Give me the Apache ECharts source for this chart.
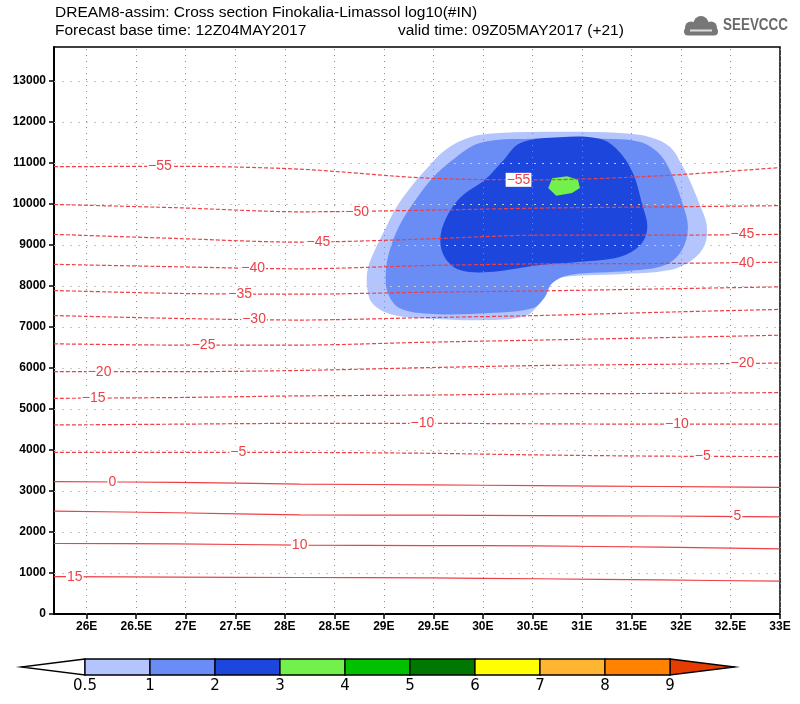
<!DOCTYPE html>
<html><head><meta charset="utf-8">
<script src="https://cdn.jsdelivr.net/npm/echarts@6/dist/echarts.min.js"></script>
<style>html,body{margin:0;padding:0;background:#fff}#c{width:800px;height:704px}</style>
</head><body><div id="c"></div>
<script>
// ---- axis ticks ----
const xTicks = [26, 26.5, 27, 27.5, 28, 28.5, 29, 29.5, 30, 30.5, 31, 31.5, 32, 32.5, 33];
const yTicks = [0, 1000, 2000, 3000, 4000, 5000, 6000, 7000, 8000, 9000, 10000, 11000, 12000, 13000];

// ---- isotherm heights (m) read at these longitudes ----
const lineLons = [25.67, 26.9, 28.15, 29.45, 30.55, 31.8, 33];
const T_P15 = [910, 900, 890, 880, 860, 830, 800];
const T_P10 = [1720, 1710, 1680, 1670, 1660, 1630, 1590];
const T_P5  = [2510, 2470, 2420, 2410, 2400, 2390, 2370];
const T_0   = [3230, 3210, 3170, 3150, 3130, 3110, 3090];
const T_M5  = [3940, 3940, 3940, 3920, 3880, 3850, 3840];
const T_M10 = [4610, 4630, 4650, 4650, 4640, 4630, 4630];
const T_M15 = [5260, 5280, 5320, 5340, 5370, 5380, 5400];
const T_M20 = [5910, 5910, 5940, 6010, 6060, 6090, 6120];
const T_M25 = [6590, 6560, 6560, 6630, 6680, 6740, 6800];
const T_M30 = [7280, 7210, 7170, 7230, 7280, 7360, 7430];
const T_M35 = [7890, 7820, 7800, 7850, 7880, 7930, 7980];
const T_M40 = [8530, 8470, 8420, 8500, 8540, 8550, 8580];
const T_M45 = [9260, 9160, 9070, 9150, 9240, 9240, 9260];
const T_M50 = [9990, 9910, 9810, 9850, 9900, 9930, 9960];
const T_M55 = [10910, 10920, 10850, 10630, 10590, 10690, 10890];
const isoLevels = [15, 10, 5, 0, -5, -10, -15, -20, -25, -30, -35, -40, -45, -50, -55];
const isoHeights = [T_P15, T_P10, T_P5, T_0, T_M5, T_M10, T_M15, T_M20, T_M25, T_M30, T_M35, T_M40, T_M45, T_M50, T_M55];

// ---- contour labels [lon, height, text] ----
const contourLabels = [
  [26.74, 10920, '−55'], [30.36, 10590, '−55'],
  [28.73, 9810, '−50'],
  [28.34, 9080, '−45'], [32.62, 9256, '−45'],
  [27.68, 8440, '−40'], [32.62, 8565, '−40'],
  [27.55, 7800, '−35'],
  [27.69, 7190, '−30'],
  [27.18, 6560, '−25'],
  [26.13, 5910, '−20'], [32.62, 6110, '−20'],
  [26.07, 5270, '−15'],
  [29.39, 4650, '−10'], [31.96, 4630, '−10'],
  [27.53, 3940, '−5'], [32.22, 3845, '−5'],
  [26.26, 3220, '0'],
  [32.57, 2380, '5'],
  [28.15, 1680, '10'],
  [25.88, 905, '15']
];

// ---- log10(#IN) shaded areas: outlines [lon, height] ----
const fill05 = [[29.87,11630],[30.17,11730],[30.78,11760],[31.38,11730],[31.69,11630],[31.89,11390],[32.01,10950],[32.11,10460],[32.19,9980],[32.26,9490],[32.24,9000],[32.11,8630],[31.89,8390],[31.38,8290],[30.88,8240],[30.73,8150],[30.63,7850],[30.56,7540],[30.43,7270],[30.07,7170],[29.47,7200],[29.06,7320],[28.88,7590],[28.83,8020],[28.84,8440],[28.91,8880],[29.01,9370],[29.11,9850],[29.25,10340],[29.42,10830],[29.62,11320]];
const fill1 = [[29.97,11490],[30.48,11590],[31.18,11590],[31.59,11510],[31.79,11200],[31.91,10710],[32.02,9980],[32.07,9420],[32.01,8880],[31.84,8510],[31.49,8370],[30.88,8270],[30.70,8070],[30.62,7710],[30.50,7460],[30.07,7340],[29.50,7320],[29.16,7460],[29.04,7830],[29.02,8340],[29.06,8880],[29.16,9490],[29.32,10100],[29.49,10630],[29.69,11070]];
const fill2 = [[30.38,11490],[30.78,11630],[31.18,11590],[31.36,11320],[31.51,10780],[31.61,9980],[31.66,9420],[31.59,9000],[31.38,8710],[30.98,8590],[30.58,8510],[30.07,8340],[29.77,8390],[29.62,8680],[29.57,9120],[29.62,9610],[29.77,10150],[30.02,10590],[30.19,11020]];
const fill3 = [[30.70,10630],[30.85,10680],[30.96,10590],[30.98,10390],[30.90,10270],[30.74,10200],[30.66,10390]];

// ---- colour bar ----
const cbLabels = ['0.5', '1', '2', '3', '4', '5', '6', '7', '8', '9'];
const cbColors = ['#b4c5fd', '#6a8cf5', '#1c46dc', '#73f04b', '#00c000', '#007800', '#ffff00', '#ffb432', '#ff8200'];
const cbLowColor = '#ffffff';
const cbHighColor = '#e63c00';

const RED = '#ec4146';
const FONT = 'Liberation Sans, Arial, sans-serif';

const chart = echarts.init(document.getElementById('c'), null, {renderer: 'canvas'});

function polySeries(pts, color, smooth, z) {
  return {
    type: 'custom', coordinateSystem: 'cartesian2d', z: z, silent: true, animation: false,
    data: [[pts[0][0], pts[0][1]]],
    renderItem: function (params, api) {
      return {type: 'polygon', shape: {points: pts.map(p => api.coord(p)), smooth: smooth}, style: {fill: color}};
    }
  };
}

const series = [];
series.push(polySeries(fill05, cbColors[0], 0.35, 2));
series.push(polySeries(fill1, cbColors[1], 0.35, 3));
series.push(polySeries(fill2, cbColors[2], 0.35, 4));
series.push(polySeries(fill3, cbColors[3], 0, 5));

// grid lines drawn on top of shading
series.push({
  type: 'line', data: [], z: 6, silent: true, animation: false,
  markLine: {
    silent: true, symbol: ['none', 'none'], animation: false, label: {show: false},
    data: xTicks.map(v => ({xAxis: v, lineStyle: {color: '#8a8a8a', width: 1, type: [1, 5]}}))
      .concat(yTicks.slice(1).map(v => ({yAxis: v, lineStyle: {color: '#c8c8c8', width: 1, type: [2, 6]}})))
  }
});

isoLevels.forEach((lv, i) => {
  series.push({
    type: 'line', z: 10, silent: true, animation: false, smooth: 0.3,
    showSymbol: false, symbol: 'none',
    data: lineLons.map((x, j) => [x, isoHeights[i][j]]),
    lineStyle: {color: RED, width: 1.2, type: lv < 0 ? [4, 2] : 'solid'}
  });
});

series.push({
  type: 'scatter', z: 20, silent: true, animation: false,
  symbol: 'rect', symbolSize: 1, itemStyle: {color: 'rgba(255,255,255,0)', opacity: 1},
  data: contourLabels.map(d => ({value: [d[0], d[1]], name: d[2]})),
  label: {
    show: true, position: 'inside', formatter: p => p.name, color: RED, opacity: 1,
    fontSize: 14, fontFamily: FONT, backgroundColor: '#ffffff', padding: [0, 1, 0, 1]
  },
  labelLayout: {hideOverlap: false}
});

// graphic: titles, logo, colour bar
const g = [];
g.push({type: 'text', left: 55, top: 5, style: {text: 'DREAM8-assim: Cross section Finokalia-Limassol log10(#IN)', font: '15.5px ' + FONT, fill: '#000'}});
g.push({type: 'text', left: 55, top: 23, style: {text: 'Forecast base time: 12Z04MAY2017', font: '15.5px ' + FONT, fill: '#000'}});
g.push({type: 'text', left: 398, top: 23, style: {text: 'valid time: 09Z05MAY2017 (+21)', font: '15.5px ' + FONT, fill: '#000'}});

// logo
g.push({type: 'group', left: 684, top: 16, children: [
  {type: 'circle', shape: {cx: 10, cy: 11, r: 6}, style: {fill: '#777'}},
  {type: 'circle', shape: {cx: 20, cy: 7, r: 7.5}, style: {fill: '#777'}},
  {type: 'circle', shape: {cx: 30, cy: 11, r: 6}, style: {fill: '#777'}},
  {type: 'rect', shape: {x: 3, y: 11, width: 34, height: 8, r: 4}, style: {fill: '#777'}},
  {type: 'rect', shape: {x: 9, y: 13, width: 22, height: 2}, style: {fill: '#ddd'}}
]});
g.push({type: 'text', x: 723, y: 18, scaleX: 0.84, style: {text: 'SEEVCCC', font: 'bold 16px ' + FONT, fill: '#6a6a6a'}});

const cbX0 = 85, cbSeg = 65, cbTop = 659, cbH = 16, tipL = 21, tipR = 735;
const cbX1 = cbX0 + cbSeg * cbColors.length;
g.push({type: 'polygon', shape: {points: [[cbX0, cbTop], [tipL, cbTop + cbH / 2], [cbX0, cbTop + cbH]]}, style: {fill: cbLowColor, stroke: '#000', lineWidth: 1.3}});
g.push({type: 'polygon', shape: {points: [[cbX1, cbTop], [tipR, cbTop + cbH / 2], [cbX1, cbTop + cbH]]}, style: {fill: cbHighColor, stroke: '#000', lineWidth: 1.3}});
cbColors.forEach((c, i) => {
  g.push({type: 'rect', shape: {x: cbX0 + i * cbSeg, y: cbTop, width: cbSeg, height: cbH}, style: {fill: c, stroke: '#000', lineWidth: 1.3}});
});
cbLabels.forEach((t, i) => {
  g.push({type: 'text', x: cbX0 + i * cbSeg, y: cbTop + cbH + 4, style: {text: t, font: '15px DejaVu Sans, sans-serif', fill: '#000', textAlign: 'center', textVerticalAlign: 'top'}});
});

chart.setOption({
  animation: false,
  backgroundColor: '#fff',
  grid: {left: 54, right: 20, top: 47, bottom: 90, show: true, borderColor: '#000', borderWidth: 1.5, backgroundColor: 'transparent'},
  xAxis: {
    type: 'value', min: 25.67, max: 33,
    axisLine: {show: true, onZero: false, lineStyle: {color: '#000', width: 2}},
    axisTick: {show: true, length: 5, customValues: xTicks, lineStyle: {color: '#000', width: 1.5}},
    axisLabel: {customValues: xTicks, formatter: v => v + 'E', color: '#000', fontSize: 12, fontWeight: 'bold', fontFamily: FONT, margin: 7},
    splitLine: {show: false}
  },
  yAxis: {
    type: 'value', min: 0, max: 13830, interval: 1000,
    axisLine: {show: true, lineStyle: {color: '#000', width: 2}},
    axisTick: {show: true, length: 5, lineStyle: {color: '#000', width: 1.5}},
    axisLabel: {color: '#000', fontSize: 12, fontWeight: 'bold', fontFamily: FONT, margin: 8, showMaxLabel: false, formatter: v => String(v)},
    splitLine: {show: false}
  },
  graphic: g,
  series: series
});
</script>
</body></html>
